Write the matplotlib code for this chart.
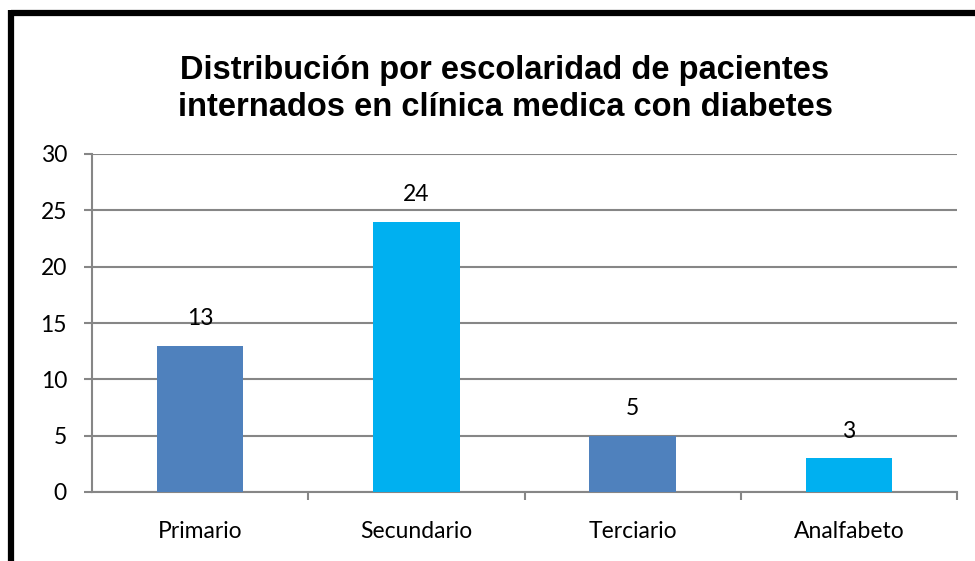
import matplotlib
matplotlib.use("Agg")
import matplotlib.pyplot as plt
from matplotlib.lines import Line2D

categories = ["Primario", "Secundario", "Terciario", "Analfabeto"]
values = [13, 24, 5, 3]
bar_colors = ["#4F81BD", "#00B0F0", "#4F81BD", "#00B0F0"]
yticks = [0, 5, 10, 15, 20, 25, 30]
title = "Distribución por escolaridad de pacientes\ninternados en clínica medica con diabetes"

W, H = 975, 561
fig = plt.figure(figsize=(W / 100, H / 100), dpi=100)
fig.patch.set_facecolor("white")

ax = fig.add_axes([92 / W, (H - 492) / H, (957 - 92) / W, (492 - 154) / H])
x = list(range(len(categories)))
ax.bar(x, values, width=0.40, color=bar_colors, zorder=3)
ax.set_xlim(-0.5, len(categories) - 0.5)
ax.set_ylim(0, 30)

grid_c = "#868686"
ax.set_yticks(yticks)
ax.yaxis.grid(True, color=grid_c, linewidth=1.5, zorder=0)
ax.set_axisbelow(True)
for s in ["top", "right"]:
    ax.spines[s].set_visible(False)
ax.spines["left"].set_color(grid_c)
ax.spines["bottom"].set_color(grid_c)
ax.spines["left"].set_linewidth(1.5)
ax.spines["bottom"].set_linewidth(1.5)

tick_font = "Lato"
fs = 16.5
ax.tick_params(axis="y", length=6, width=1.5, color=grid_c, pad=12,
               labelsize=fs, labelcolor="black")
ax.set_yticklabels([str(v) for v in yticks], fontfamily=tick_font)

# category labels at centers, ticks at boundaries
ax.set_xticks(x)
ax.set_xticklabels(categories, fontfamily=tick_font, fontsize=fs)
ax.tick_params(axis="x", which="major", length=0, pad=21)
ax.set_xticks([i + 0.5 for i in range(len(categories))], minor=True)
ax.tick_params(axis="x", which="minor", length=6, width=1.5, color=grid_c)

for xi, v in zip(x, values):
    ax.annotate(str(v), (xi, v), xytext=(0, 12), textcoords="offset points",
                ha="center", va="bottom", fontsize=fs, fontfamily=tick_font,
                color="black", zorder=4)

fig.text(505 / W, (H - 89) / H, title, ha="center", va="center",
         fontsize=23.5, fontweight="bold", fontfamily="Liberation Sans",
         linespacing=1.27)

# border (top and left only visible)
fig.add_artist(Line2D([10.5 / W, 1.0], [(H - 12.5) / H, (H - 12.5) / H],
                      transform=fig.transFigure, color="black", linewidth=4.5,
                      solid_capstyle="butt"))
fig.add_artist(Line2D([10.5 / W, 10.5 / W], [0, (H - 10) / H],
                      transform=fig.transFigure, color="black", linewidth=4.5,
                      solid_capstyle="butt"))

fig.savefig("out.png", dpi=100, facecolor="white")
